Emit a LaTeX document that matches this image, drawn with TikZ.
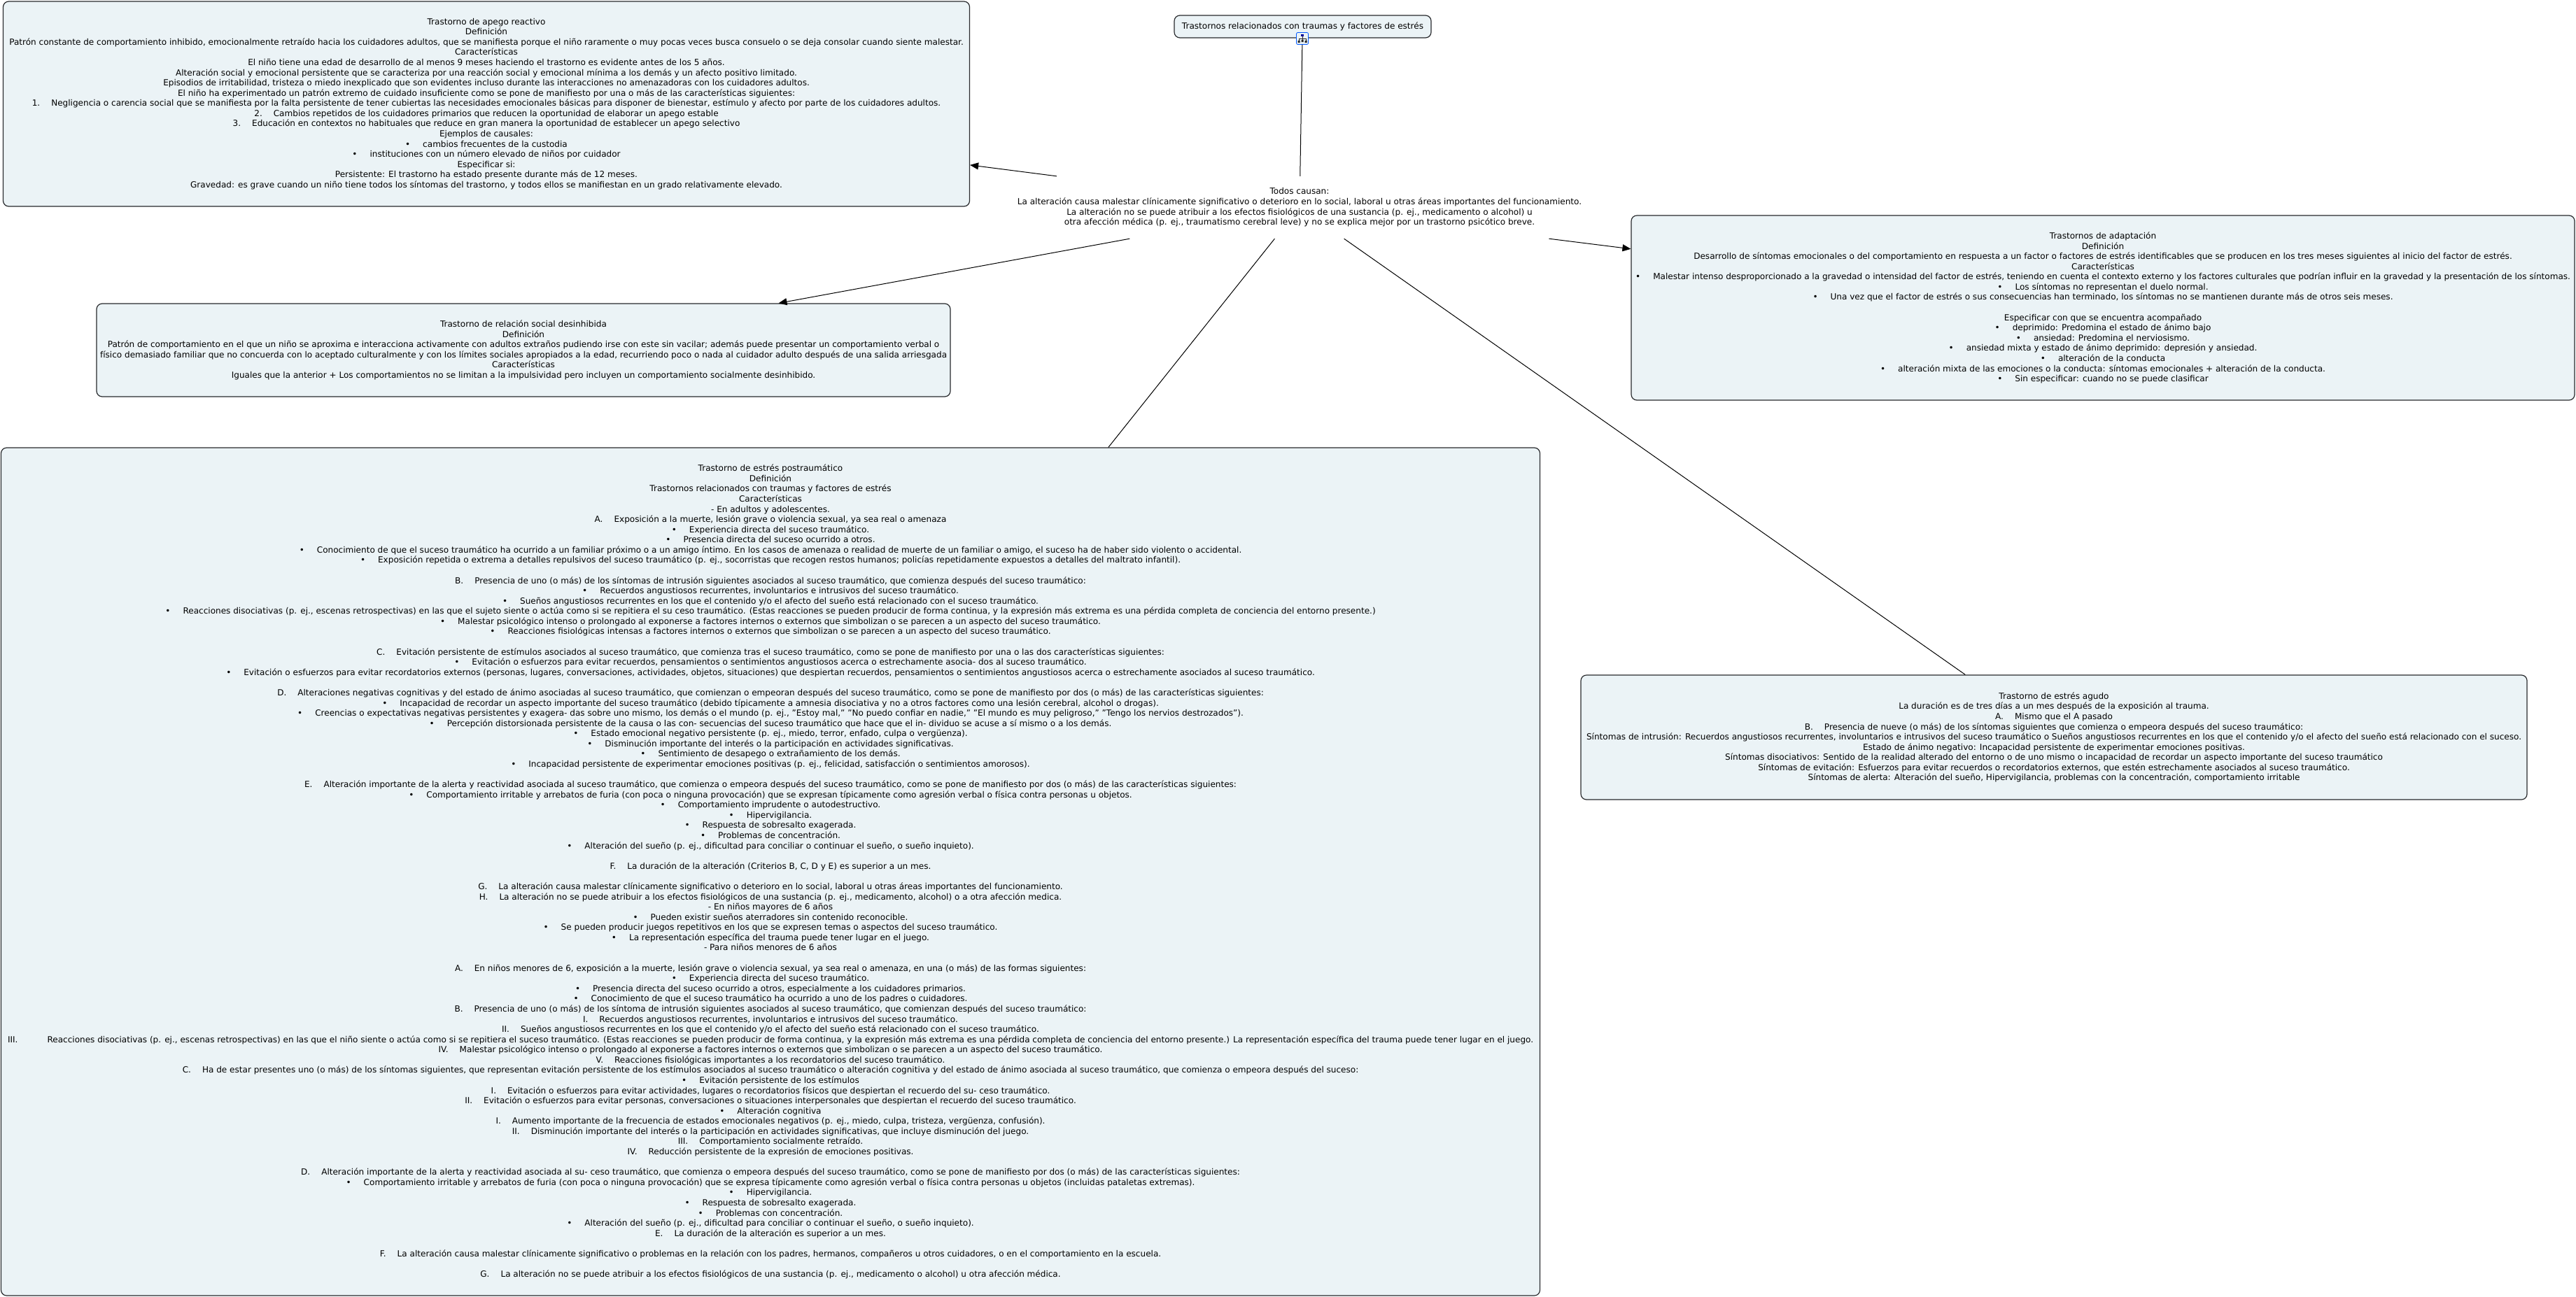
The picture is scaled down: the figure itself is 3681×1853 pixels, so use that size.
\documentclass[tikz,border=0pt]{standalone}
\usepackage{fontspec}
\setmainfont{DejaVu Sans}
\usepackage{xcolor}
\usetikzlibrary{arrows.meta}
\definecolor{boxfill}{RGB}{235,243,246}
\definecolor{boxline}{RGB}{40,42,45}
\newcommand{\bul}{•\hspace{18pt}}
\newcommand{\itm}[1]{#1\hspace{16pt}}
\tikzset{
  concept/.style={draw=boxline, fill=boxfill, line width=1.2pt, rounded corners=8pt, inner sep=0pt,
    align=center, text=black, font=\fontsize{12.05}{14.58}\selectfont},
  plainconcept/.style={inner sep=0pt, align=center, text=black, font=\fontsize{12.05}{14.58}\selectfont},
  iconbox/.style={draw=blue!65!cyan, fill=boxfill, line width=0.8pt, rounded corners=2pt, minimum size=17pt, inner sep=0pt},
  link/.style={draw=black, line width=1pt},
  arrowlink/.style={link, -{Triangle[length=12pt,width=10pt]}},
}

\begin{document}
\begin{tikzpicture}[x=1pt,y=-1pt]
  \useasboundingbox (0,0) rectangle (3681,1853);

  % top concept
  \node[concept, minimum width=367pt, minimum height=32pt] (titulo) at (1861.5,38) {Trastornos relacionados con traumas y factores de estrés};
  \node[iconbox] (mapa) at (1861,55) {};
  \begin{scope}[shift={(mapa.center)}]
    \fill[blue!60!black] (-2,-6) rectangle (2,-3);
    \draw[black!85, line width=0.7pt] (0,-3) -- (0,4) (-5,0) -- (5,0) (-5,0) -- (-5,3) (5,0) -- (5,3);
    \fill[black!85] (-6.5,3) rectangle (-3.5,6) (-1.5,2) rectangle (1.5,5) (3.5,3) rectangle (6.5,6);
  \end{scope}

  % linking text
  \node[plainconcept, minimum width=845pt, minimum height=89pt] (todos) at (1857,296.5) {Todos causan:\\
    La alteración causa malestar clínicamente significativo o deterioro en lo social, laboral u otras áreas importantes del funcionamiento.\\
    La alteración no se puede atribuir a los efectos fisiológicos de una sustancia (p. ej., medicamento o alcohol) u\\
    otra afección médica (p. ej., traumatismo cerebral leve) y no se explica mejor por un trastorno psicótico breve.};

  % reactive attachment
  \node[concept, minimum width=1381pt, minimum height=293pt] (apego) at (695,148.5) {Trastorno de apego reactivo\\
    Definición\\
    Patrón constante de comportamiento inhibido, emocionalmente retraído hacia los cuidadores adultos, que se manifiesta porque el niño raramente o muy pocas veces busca consuelo o se deja consolar cuando siente malestar.\\
    Características\\
    El niño tiene una edad de desarrollo de al menos 9 meses haciendo el trastorno es evidente antes de los 5 años.\\
    Alteración social y emocional persistente que se caracteriza por una reacción social y emocional mínima a los demás y un afecto positivo limitado.\\
    Episodios de irritabilidad, tristeza o miedo inexplicado que son evidentes incluso durante las interacciones no amenazadoras con los cuidadores adultos.\\
    El niño ha experimentado un patrón extremo de cuidado insuficiente como se pone de manifiesto por una o más de las características siguientes:\\
    \itm{1.}Negligencia o carencia social que se manifiesta por la falta persistente de tener cubiertas las necesidades emocionales básicas para disponer de bienestar, estímulo y afecto por parte de los cuidadores adultos.\\
    \itm{2.}Cambios repetidos de los cuidadores primarios que reducen la oportunidad de elaborar un apego estable\\
    \itm{3.}Educación en contextos no habituales que reduce en gran manera la oportunidad de establecer un apego selectivo\\
    Ejemplos de causales:\\
    \bul cambios frecuentes de la custodia\\
    \bul instituciones con un número elevado de niños por cuidador\\
    Especificar si:\\
    Persistente: El trastorno ha estado presente durante más de 12 meses.\\
    Gravedad: es grave cuando un niño tiene todos los síntomas del trastorno, y todos ellos se manifiestan en un grado relativamente elevado.};

  % social relation
  \node[concept, minimum width=1220pt, minimum height=133pt] (social) at (748,500.5) {Trastorno de relación social desinhibida\\
    Definición\\
    Patrón de comportamiento en el que un niño se aproxima e interacciona activamente con adultos extraños pudiendo irse con este sin vacilar; además puede presentar un comportamiento verbal o\\
    físico demasiado familiar que no concuerda con lo aceptado culturalmente y con los límites sociales apropiados a la edad, recurriendo poco o nada al cuidador adulto después de una salida arriesgada\\
    Características\\
    Iguales que la anterior + Los comportamientos no se limitan a la impulsividad pero incluyen un comportamiento socialmente desinhibido.};

  % adaptation
  \node[concept, minimum width=1348pt, minimum height=264pt] (adaptacion) at (3005,440) {Trastornos de adaptación\\
    Definición\\
    Desarrollo de síntomas emocionales o del comportamiento en respuesta a un factor o factores de estrés identificables que se producen en los tres meses siguientes al inicio del factor de estrés.\\
    Características\\
    \bul Malestar intenso desproporcionado a la gravedad o intensidad del factor de estrés, teniendo en cuenta el contexto externo y los factores culturales que podrían influir en la gravedad y la presentación de los síntomas.\\
    \bul Los síntomas no representan el duelo normal.\\
    \bul Una vez que el factor de estrés o sus consecuencias han terminado, los síntomas no se mantienen durante más de otros seis meses.\\
    ~\\
    Especificar con que se encuentra acompañado\\
    \bul deprimido: Predomina el estado de ánimo bajo\\
    \bul ansiedad: Predomina el nerviosismo.\\
    \bul ansiedad mixta y estado de ánimo deprimido: depresión y ansiedad.\\
    \bul alteración de la conducta\\
    \bul alteración mixta de las emociones o la conducta: síntomas emocionales + alteración de la conducta.\\
    \bul Sin especificar: cuando no se puede clasificar};

  % acute stress
  \node[concept, minimum width=1352pt, minimum height=178pt] (agudo) at (2935,1054) {Trastorno de estrés agudo\\
    La duración es de tres días a un mes después de la exposición al trauma.\\
    \itm{A.}Mismo que el A pasado\\
    \itm{B.}Presencia de nueve (o más) de los síntomas siguientes que comienza o empeora después del suceso traumático:\\
    Síntomas de intrusión: Recuerdos angustiosos recurrentes, involuntarios e intrusivos del suceso traumático o Sueños angustiosos recurrentes en los que el contenido y/o el afecto del sueño está relacionado con el suceso.\\
    Estado de ánimo negativo: Incapacidad persistente de experimentar emociones positivas.\\
    Síntomas disociativos: Sentido de la realidad alterado del entorno o de uno mismo o incapacidad de recordar un aspecto importante del suceso traumático\\
    Síntomas de evitación: Esfuerzos para evitar recuerdos o recordatorios externos, que estén estrechamente asociados al suceso traumático.\\
    Síntomas de alerta: Alteración del sueño, Hipervigilancia, problemas con la concentración, comportamiento irritable};

  % postraumatic stress
  \node[concept, minimum width=2199pt, minimum height=1212pt] (postrauma) at (1101,1246) {Trastorno de estrés postraumático\\
    Definición\\
    Trastornos relacionados con traumas y factores de estrés\\
    Características\\
    - En adultos y adolescentes.\\
    \itm{A.}Exposición a la muerte, lesión grave o violencia sexual, ya sea real o amenaza\\
    \bul Experiencia directa del suceso traumático.\\
    \bul Presencia directa del suceso ocurrido a otros.\\
    \bul Conocimiento de que el suceso traumático ha ocurrido a un familiar próximo o a un amigo íntimo. En los casos de amenaza o realidad de muerte de un familiar o amigo, el suceso ha de haber sido violento o accidental.\\
    \bul Exposición repetida o extrema a detalles repulsivos del suceso traumático (p. ej., socorristas que recogen restos humanos; policías repetidamente expuestos a detalles del maltrato infantil).\\
    ~\\
    \itm{B.}Presencia de uno (o más) de los síntomas de intrusión siguientes asociados al suceso traumático, que comienza después del suceso traumático:\\
    \bul Recuerdos angustiosos recurrentes, involuntarios e intrusivos del suceso traumático.\\
    \bul Sueños angustiosos recurrentes en los que el contenido y/o el afecto del sueño está relacionado con el suceso traumático.\\
    \bul Reacciones disociativas (p. ej., escenas retrospectivas) en las que el sujeto siente o actúa como si se repitiera el su ceso traumático. (Estas reacciones se pueden producir de forma continua, y la expresión más extrema es una pérdida completa de conciencia del entorno presente.)\\
    \bul Malestar psicológico intenso o prolongado al exponerse a factores internos o externos que simbolizan o se parecen a un aspecto del suceso traumático.\\
    \bul Reacciones fisiológicas intensas a factores internos o externos que simbolizan o se parecen a un aspecto del suceso traumático.\\
    ~\\
    \itm{C.}Evitación persistente de estímulos asociados al suceso traumático, que comienza tras el suceso traumático, como se pone de manifiesto por una o las dos características siguientes:\\
    \bul Evitación o esfuerzos para evitar recuerdos, pensamientos o sentimientos angustiosos acerca o estrechamente asocia- dos al suceso traumático.\\
    \bul Evitación o esfuerzos para evitar recordatorios externos (personas, lugares, conversaciones, actividades, objetos, situaciones) que despiertan recuerdos, pensamientos o sentimientos angustiosos acerca o estrechamente asociados al suceso traumático.\\
    ~\\
    \itm{D.}Alteraciones negativas cognitivas y del estado de ánimo asociadas al suceso traumático, que comienzan o empeoran después del suceso traumático, como se pone de manifiesto por dos (o más) de las características siguientes:\\
    \bul Incapacidad de recordar un aspecto importante del suceso traumático (debido típicamente a amnesia disociativa y no a otros factores como una lesión cerebral, alcohol o drogas).\\
    \bul Creencias o expectativas negativas persistentes y exagera- das sobre uno mismo, los demás o el mundo (p. ej., "Estoy mal," "No puedo confiar en nadie," "El mundo es muy peligroso," "Tengo los nervios destrozados").\\
    \bul Percepción distorsionada persistente de la causa o las con- secuencias del suceso traumático que hace que el in- dividuo se acuse a sí mismo o a los demás.\\
    \bul Estado emocional negativo persistente (p. ej., miedo, terror, enfado, culpa o vergüenza).\\
    \bul Disminución importante del interés o la participación en actividades significativas.\\
    \bul Sentimiento de desapego o extrañamiento de los demás.\\
    \bul Incapacidad persistente de experimentar emociones positivas (p. ej., felicidad, satisfacción o sentimientos amorosos).\\
    ~\\
    \itm{E.}Alteración importante de la alerta y reactividad asociada al suceso traumático, que comienza o empeora después del suceso traumático, como se pone de manifiesto por dos (o más) de las características siguientes:\\
    \bul Comportamiento irritable y arrebatos de furia (con poca o ninguna provocación) que se expresan típicamente como agresión verbal o física contra personas u objetos.\\
    \bul Comportamiento imprudente o autodestructivo.\\
    \bul Hipervigilancia.\\
    \bul Respuesta de sobresalto exagerada.\\
    \bul Problemas de concentración.\\
    \bul Alteración del sueño (p. ej., dificultad para conciliar o continuar el sueño, o sueño inquieto).\\
    ~\\
    \itm{F.}La duración de la alteración (Criterios B, C, D y E) es superior a un mes.\\
    ~\\
    \itm{G.}La alteración causa malestar clínicamente significativo o deterioro en lo social, laboral u otras áreas importantes del funcionamiento.\\
    \itm{H.}La alteración no se puede atribuir a los efectos fisiológicos de una sustancia (p. ej., medicamento, alcohol) o a otra afección medica.\\
    - En niños mayores de 6 años\\
    \bul Pueden existir sueños aterradores sin contenido reconocible.\\
    \bul Se pueden producir juegos repetitivos en los que se expresen temas o aspectos del suceso traumático.\\
    \bul La representación específica del trauma puede tener lugar en el juego.\\
    - Para niños menores de 6 años\\
    ~\\
    \itm{A.}En niños menores de 6, exposición a la muerte, lesión grave o violencia sexual, ya sea real o amenaza, en una (o más) de las formas siguientes:\\
    \bul Experiencia directa del suceso traumático.\\
    \bul Presencia directa del suceso ocurrido a otros, especialmente a los cuidadores primarios.\\
    \bul Conocimiento de que el suceso traumático ha ocurrido a uno de los padres o cuidadores.\\
    \itm{B.}Presencia de uno (o más) de los síntoma de intrusión siguientes asociados al suceso traumático, que comienzan después del suceso traumático:\\
    \itm{I.}Recuerdos angustiosos recurrentes, involuntarios e intrusivos del suceso traumático.\\
    \itm{II.}Sueños angustiosos recurrentes en los que el contenido y/o el afecto del sueño está relacionado con el suceso traumático.\\
    III.\hspace{42pt}Reacciones disociativas (p. ej., escenas retrospectivas) en las que el niño siente o actúa como si se repitiera el suceso traumático. (Estas reacciones se pueden producir de forma continua, y la expresión más extrema es una pérdida completa de conciencia del entorno presente.) La representación específica del trauma puede tener lugar en el juego.\\
    \itm{IV.}Malestar psicológico intenso o prolongado al exponerse a factores internos o externos que simbolizan o se parecen a un aspecto del suceso traumático.\\
    \itm{V.}Reacciones fisiológicas importantes a los recordatorios del suceso traumático.\\
    \itm{C.}Ha de estar presentes uno (o más) de los síntomas siguientes, que representan evitación persistente de los estímulos asociados al suceso traumático o alteración cognitiva y del estado de ánimo asociada al suceso traumático, que comienza o empeora después del suceso:\\
    \bul Evitación persistente de los estímulos\\
    \itm{I.}Evitación o esfuerzos para evitar actividades, lugares o recordatorios físicos que despiertan el recuerdo del su- ceso traumático.\\
    \itm{II.}Evitación o esfuerzos para evitar personas, conversaciones o situaciones interpersonales que despiertan el recuerdo del suceso traumático.\\
    \bul Alteración cognitiva\\
    \itm{I.}Aumento importante de la frecuencia de estados emocionales negativos (p. ej., miedo, culpa, tristeza, vergüenza, confusión).\\
    \itm{II.}Disminución importante del interés o la participación en actividades significativas, que incluye disminución del juego.\\
    \itm{III.}Comportamiento socialmente retraído.\\
    \itm{IV.}Reducción persistente de la expresión de emociones positivas.\\
    ~\\
    \itm{D.}Alteración importante de la alerta y reactividad asociada al su- ceso traumático, que comienza o empeora después del suceso traumático, como se pone de manifiesto por dos (o más) de las características siguientes:\\
    \bul Comportamiento irritable y arrebatos de furia (con poca o ninguna provocación) que se expresa típicamente como agresión verbal o física contra personas u objetos (incluidas pataletas extremas).\\
    \bul Hipervigilancia.\\
    \bul Respuesta de sobresalto exagerada.\\
    \bul Problemas con concentración.\\
    \bul Alteración del sueño (p. ej., dificultad para conciliar o continuar el sueño, o sueño inquieto).\\
    \itm{E.}La duración de la alteración es superior a un mes.\\
    ~\\
    \itm{F.}La alteración causa malestar clínicamente significativo o problemas en la relación con los padres, hermanos, compañeros u otros cuidadores, o en el comportamiento en la escuela.\\
    ~\\
    \itm{G.}La alteración no se puede atribuir a los efectos fisiológicos de una sustancia (p. ej., medicamento o alcohol) u otra afección médica.};

  % connectors
  \draw[link] (todos) -- (mapa);
  \draw[arrowlink] (todos) -- (apego);
  \draw[arrowlink] (todos) -- (social);
  \draw[arrowlink] (todos) -- (adaptacion);
  \draw[link] (todos) -- (postrauma);
  \draw[link] (todos) -- (agudo);

\end{tikzpicture}
\end{document}
